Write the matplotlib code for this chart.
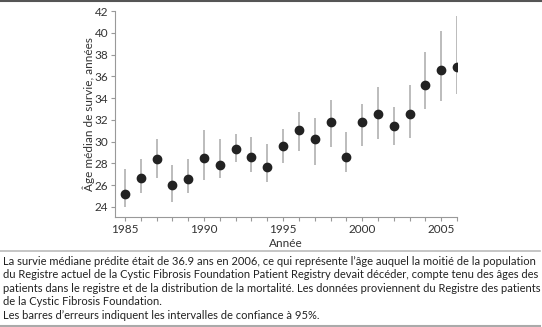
import numpy as np
import matplotlib.pyplot as plt

plt.rcParams['font.family'] = ['Lato', 'DejaVu Sans']

# median survival by year, with 95% CI bounds
years = np.arange(1985, 2007)
median = [25.2, 26.7, 28.4, 26.0, 26.6, 28.5, 27.9, 29.3, 28.6, 27.7, 29.6,
          31.1, 30.2, 31.8, 28.6, 31.8, 32.5, 31.4, 32.5, 35.2, 36.6, 36.9]
ci_low = [24.0, 25.3, 26.7, 24.5, 25.3, 26.5, 26.7, 28.1, 27.2, 26.3, 28.0,
          29.1, 27.9, 29.5, 27.2, 29.6, 30.2, 29.7, 30.3, 33.0, 33.7, 34.4]
ci_high = [27.5, 28.4, 30.2, 27.9, 28.4, 31.1, 30.2, 30.7, 30.4, 29.8, 31.2,
           32.7, 32.2, 33.8, 30.9, 33.5, 35.0, 33.2, 35.2, 38.2, 40.2, 41.5]

y_ticks = np.arange(24, 43, 2)
x_labels = [1985, 1990, 1995, 2000, 2005]

caption = ("La survie médiane prédite était de 36.9 ans en 2006, ce qui représente l\u2019âge auquel la moitié de la population\n"
           "du Registre actuel de la Cystic Fibrosis Foundation Patient Registry devait décéder, compte tenu des âges des\n"
           "patients dans le registre et de la distribution de la mortalité. Les données proviennent du Registre des patients\n"
           "de la Cystic Fibrosis Foundation.\n"
           "Les barres d\u2019erreurs indiquent les intervalles de confiance à 95%.")

fig = plt.figure(figsize=(5.42, 3.27), dpi=100)
ax = fig.add_axes([115/542, 110/327, 342/542, 206/327])

median = np.array(median)
yerr = [median - np.array(ci_low), np.array(ci_high) - median]
ax.errorbar(years, median, yerr=yerr, fmt='o', color='#222222', ms=6,
            ecolor='#aaaaaa', elinewidth=1.1, capsize=0, zorder=3)

ax.set_xlim(1984.37, 2006)
ax.set_ylim(23.08, 42)
ax.set_yticks(y_ticks)
ax.set_xticks(years)
ax.set_xticklabels([str(y) if y in x_labels else '' for y in years])

for side in ['top', 'right']:
    ax.spines[side].set_visible(False)
for side in ['left', 'bottom']:
    ax.spines[side].set_color('#999999')
    ax.spines[side].set_linewidth(0.8)
ax.tick_params(colors='#999999', labelcolor='#333333', labelsize=8.5,
               length=3, width=0.8, pad=2)

ax.set_xlabel('Année', fontsize=8.5, color='#333333', labelpad=2)
ax.set_ylabel('Âge médian de survie, années', fontsize=8.5, color='#333333', labelpad=-0.5)

# rules and caption below the chart
fig.add_artist(plt.Line2D([0, 1], [1 - 1/327, 1 - 1/327], color='#555555', lw=1.5))
fig.add_artist(plt.Line2D([0, 540/542], [1 - 251/327, 1 - 251/327], color='#bbbbbb', lw=1.2))
fig.add_artist(plt.Line2D([0, 540/542], [1 - 325.5/327, 1 - 325.5/327], color='#aaaaaa', lw=1.5))
fig.text(3/542, 1 - 256/327, caption, ha='left', va='top', fontsize=8.0,
         color='#222222', linespacing=1.27)

fig.savefig('out.png', dpi=100)
